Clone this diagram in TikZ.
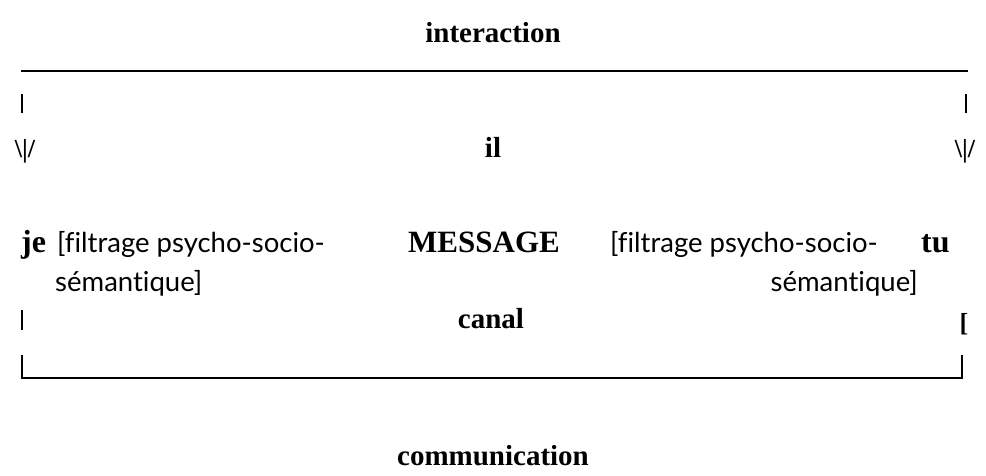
\documentclass[tikz,border=0pt]{standalone}
\usepackage{fontspec}
\setmainfont{Liberation Serif}
\newfontfamily\filtfont[Ligatures={NoCommon,NoRare,NoContextual}]{Lato}
\tikzset{
  lbl/.style={font=\fontsize{29}{32}\selectfont\bfseries, inner sep=0pt, anchor=base},
  pron/.style={font=\fontsize{32}{34}\selectfont\bfseries, inner sep=0pt},
  filt/.style={font=\fontsize{27.5}{32}\selectfont\filtfont, inner sep=0pt},
  arrowtxt/.style={font=\fontsize{26}{30}\selectfont\bfseries, inner sep=0pt, anchor=base},
  rule/.style={line width=2.4pt},
  tick/.style={line width=1.8pt}
}
\begin{document}
\begin{tikzpicture}[x=1pt,y=-1pt]
\useasboundingbox (0,0) rectangle (986,475);
% titles
\node[lbl] (inter) at (493,42) {interaction};
\node[lbl] (comm) at (493,465) {communication};
% top rule with its two downward arrows
\draw[rule] (21,71) -- (968,71);
\draw[tick] (22,94) -- (22,113);
\draw[tick] (966,94) -- (966,113);
\node[arrowtxt] (dl) at (25,157) {\textbackslash|/};
\node[arrowtxt] (dr) at (965,157) {\textbackslash|/};
\node[lbl] (il) at (493,157) {il};
% middle row
\node[pron, anchor=base west] (je) at (21,252) {je};
\node[filt, anchor=base west] (f1) at (57,252) {[filtrage psycho-socio-};
\node[filt, anchor=base west] (s1) at (55,291) {sémantique]};
\node[lbl, font=\fontsize{31}{34}\selectfont\bfseries] (msg) at (484,252) {MESSAGE};
\node[filt, anchor=base east] (f2) at (878,252) {[filtrage psycho-socio-};
\node[filt, anchor=base east] (s2) at (918,291) {sémantique]};
\node[pron, anchor=base west] (tu) at (921,252) {tu};
% canal row
\draw[tick] (22,310) -- (22,330);
\node[lbl] (canal) at (491,328) {canal};
\node[arrowtxt] (rb) at (964,331) {[};
% bottom rule
\draw[rule] (22,355) -- (22,378) -- (962,378) -- (962,355);
\end{tikzpicture}
\end{document}
